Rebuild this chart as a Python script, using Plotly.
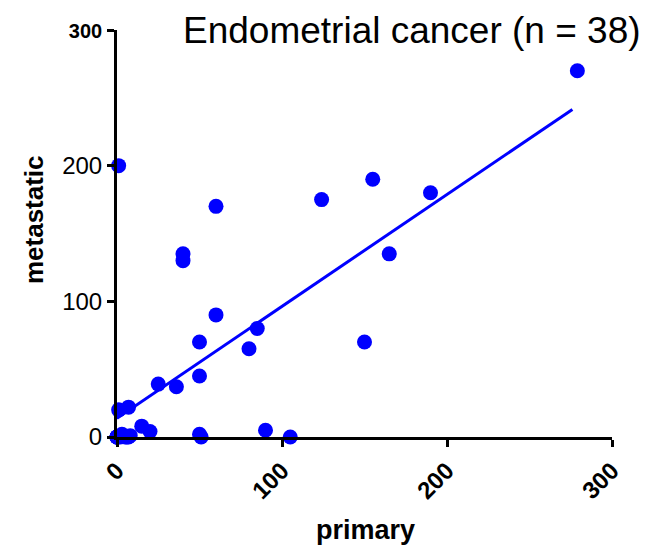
import numpy as np
import plotly.graph_objects as go

primary = [1, 279, 60, 40, 40, 124, 155, 190, 165, 60, 85, 80, 50, 150, 50, 25, 36,
           1, 7, 15, 20, 50, 51, 90, 105,
           0, 0, 0, 0, 0, 0, 2, 3, 4, 5, 6, 7, 8]
metastatic = [200, 270, 170, 135, 130, 175, 190, 180, 135, 90, 80, 65, 70, 70, 45, 39, 37,
              20, 22, 8, 4, 2, 0, 5, 0,
              0, 0, 0, 0, 0, 0, 0, 2, 1, 0, 0, 0, 1]

x_ticks = [0, 100, 200, 300]
x_ticklabels = ["<b>0</b>", "<b>100</b>", "<b>200</b>", "<b>300</b>"]
y_ticks = [0, 100, 200, 300]
y_ticklabels = ["0", "100", "200", "<span style='font-size:20px'><b>300</b></span>"]

title_text = "Endometrial cancer (n = 38)"

px = np.array(primary, dtype=float)
py = np.array(metastatic, dtype=float)
slope, intercept = np.polyfit(px, py, 1)
fit_x = np.array([px.min(), 276.0])
fit_y = slope * fit_x + intercept

FONT = "Liberation Sans, Arial, Helvetica, sans-serif"
BLUE = "#0000FF"

# plot area in page pixels: x 117..612, y 28..437 (page has an 8px body margin)
PL, PR, PT, PB = 117, 612, 28, 437
W, H = PR - PL, PB - PT

fig = go.Figure()
fig.add_trace(go.Scatter(x=fit_x, y=fit_y, mode="lines",
                         line=dict(color=BLUE, width=3), cliponaxis=False,
                         showlegend=False, hoverinfo="skip"))
fig.add_trace(go.Scatter(x=primary, y=metastatic, mode="markers",
                         marker=dict(color=BLUE, size=15, line=dict(width=0)),
                         cliponaxis=False, showlegend=False))

fig.update_layout(
    width=659, height=549,
    margin=dict(l=PL - 8, r=659 + 8 - PR, t=PT - 8, b=549 + 8 - PB),
    plot_bgcolor="white", paper_bgcolor="white",
    font=dict(family=FONT, color="black"),
    xaxis=dict(range=[0, 300], tickvals=x_ticks, ticktext=x_ticklabels,
               tickangle=-45, tickfont=dict(size=24, family=FONT),
               showgrid=False, zeroline=False, showline=True, linecolor="black",
               linewidth=3, ticks="outside", ticklen=7, tickwidth=3, tickcolor="black",
               fixedrange=True),
    yaxis=dict(range=[0, 300], tickvals=y_ticks, ticktext=y_ticklabels,
               tickfont=dict(size=24, family=FONT),
               showgrid=False, zeroline=False, showline=True, linecolor="black",
               linewidth=3, ticks="outside", ticklen=7, tickwidth=3, tickcolor="black",
               fixedrange=True),
    annotations=[
        dict(text=title_text, xref="paper", yref="paper", x=(643 - PL) / W,
             y=(PB - 28) / H, xanchor="right", yanchor="middle", showarrow=False,
             font=dict(size=37, family=FONT, color="black")),
        dict(text="<b>primary</b>", xref="paper", yref="paper", x=(365 - PL) / W,
             y=-(530 - PB) / H, xanchor="center", yanchor="middle", showarrow=False,
             font=dict(size=27, family=FONT, color="black")),
        dict(text="<b>metastatic</b>", xref="paper", yref="paper", x=-(PL - 34) / W,
             y=(PB - 219) / H, xanchor="center", yanchor="middle", showarrow=False,
             textangle=-90, font=dict(size=26, family=FONT, color="black")),
    ],
)

fig.write_html("out.html")
